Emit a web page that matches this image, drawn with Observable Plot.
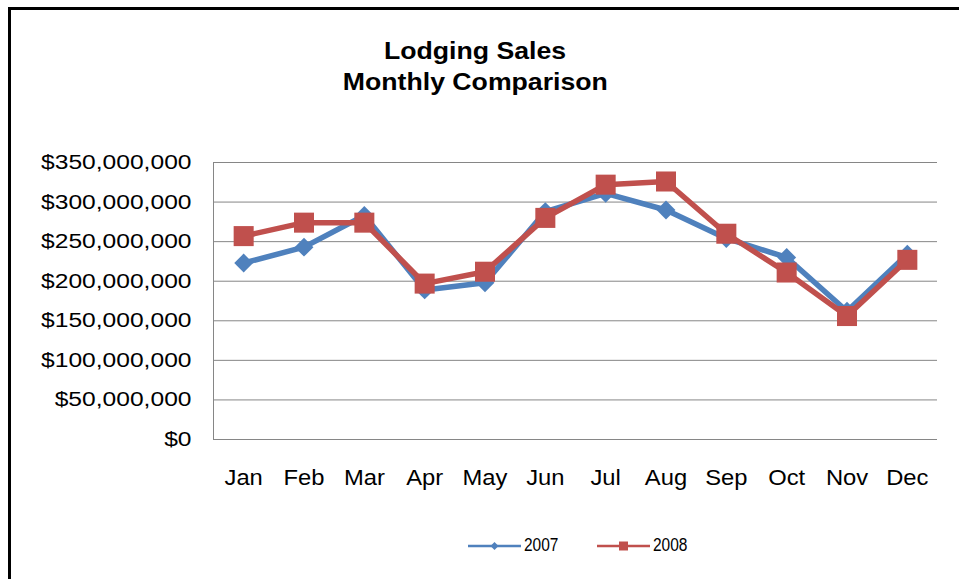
<!DOCTYPE html>
<html><head><meta charset="utf-8">
<script src="https://cdn.jsdelivr.net/npm/d3@7"></script>
<script src="https://cdn.jsdelivr.net/npm/@observablehq/plot@0.6"></script>
<style>
body{margin:0;background:#fff;}
#wrap{position:relative;width:959px;height:579px;overflow:hidden;font-family:"Liberation Sans",Arial,sans-serif;background:#fff;}
#frame{position:absolute;left:8px;top:7px;right:-10px;bottom:-10px;border-top:3px solid #000;border-left:3px solid #000;}
#title{position:absolute;left:0;width:950px;top:35px;text-align:center;font-weight:bold;font-size:24px;line-height:31px;color:#000;}
#title span{display:inline-block;transform:scaleX(1.11);}
#chart{position:absolute;left:0;top:140px;}
#legend{position:absolute;left:468px;top:535px;display:flex;align-items:center;font-family:"Liberation Sans Narrow","Liberation Sans",Arial,sans-serif;font-size:18px;color:#000;}
#legend .item{display:flex;align-items:center;margin-right:39px;}
#legend svg{display:block;}
#legend .lab{margin-left:3px;display:inline-block;transform:scaleX(0.86);transform-origin:left center;width:34px;}
</style>
</head><body>
<div id="wrap">
  <div id="frame"></div>
  <div id="title"><span>Lodging Sales</span><br><span>Monthly Comparison</span></div>
  <div id="chart"></div>
  <div id="legend"></div>
</div>
<script>
const months = ["Jan","Feb","Mar","Apr","May","Jun","Jul","Aug","Sep","Oct","Nov","Dec"];
const sales2007 = [223e6, 243e6, 283e6, 189e6, 198e6, 288e6, 311e6, 290e6, 254e6, 230e6, 162e6, 234e6];
const sales2008 = [257e6, 274e6, 274e6, 197e6, 212e6, 280e6, 322e6, 326e6, 260e6, 211e6, 156e6, 227e6];
const yTicks = [0, 50e6, 100e6, 150e6, 200e6, 250e6, 300e6, 350e6];
const seriesNames = ["2007", "2008"];
const colors = ["#4F81BD", "#C0504D"];

const d07 = months.map((m, i) => ({i, m, v: sales2007[i]}));
const d08 = months.map((m, i) => ({i, m, v: sales2008[i]}));

const plot = Plot.plot({
  width: 959,
  height: 380,
  marginLeft: 213,
  marginRight: 22,
  marginTop: 22,
  marginBottom: 81,
  style: {fontFamily: '"Liberation Sans", Arial, sans-serif', color: "#000", background: "transparent"},
  x: {type: "linear", domain: [-0.5, 11.5]},
  y: {domain: [0, 350e6]},
  marks: [
    Plot.gridY(yTicks, {stroke: "#868686", strokeOpacity: 1, strokeWidth: 1}),
    Plot.ruleX([-0.5], {stroke: "#868686", strokeWidth: 1}),
    Plot.ruleY([0], {stroke: "#868686", strokeWidth: 1}),
    Plot.axisY(yTicks, {tickSize: 0, tickPadding: 22, fontSize: 20.5, tickFormat: d3.format("$,"), label: null}),
    Plot.axisX(d3.range(months.length), {tickSize: 0, tickPadding: 30, fontSize: 22, tickFormat: i => months[i], label: null}),
    Plot.line(d07, {x: "i", y: "v", stroke: colors[0], strokeWidth: 5.5, strokeLinejoin: "round"}),
    Plot.dot(d07, {x: "i", y: "v", symbol: "diamond2", r: 8.5, fill: colors[0], stroke: "none"}),
    Plot.line(d08, {x: "i", y: "v", stroke: colors[1], strokeWidth: 5.5, strokeLinejoin: "round"}),
    Plot.dot(d08, {x: "i", y: "v", symbol: "square", r: 11.3, fill: colors[1], stroke: "none"})
  ]
});
document.getElementById("chart").appendChild(plot);

// horizontal stretch of tick labels to mimic the reference typeface
function stretch(sel, k) {
  plot.querySelectorAll(sel).forEach(t => {
    const w = t.getComputedTextLength();
    t.setAttribute("textLength", w * k);
    t.setAttribute("lengthAdjust", "spacingAndGlyphs");
  });
}
stretch('g[aria-label="y-axis tick label"] text', 1.2);
stretch('g[aria-label="x-axis tick label"] text', 1.08);

// legend
const legend = document.getElementById("legend");
seriesNames.forEach((name, k) => {
  const item = document.createElement("div");
  item.className = "item";
  const ns = "http://www.w3.org/2000/svg";
  const s = document.createElementNS(ns, "svg");
  s.setAttribute("width", 53); s.setAttribute("height", 20);
  const ln = document.createElementNS(ns, "line");
  ln.setAttribute("x1", 0); ln.setAttribute("x2", 53); ln.setAttribute("y1", 10); ln.setAttribute("y2", 10);
  ln.setAttribute("stroke", colors[k]); ln.setAttribute("stroke-width", 2.5);
  s.appendChild(ln);
  const mk = document.createElementNS(ns, "path");
  mk.setAttribute("d", k === 0 ? "M26.5,6L30.5,10L26.5,14L22.5,10Z" : "M22,5.5H31V14.5H22Z");
  mk.setAttribute("fill", colors[k]);
  s.appendChild(mk);
  item.appendChild(s);
  const lab = document.createElement("span");
  lab.className = "lab"; lab.textContent = name;
  item.appendChild(lab);
  legend.appendChild(item);
});
</script>
</body></html>
